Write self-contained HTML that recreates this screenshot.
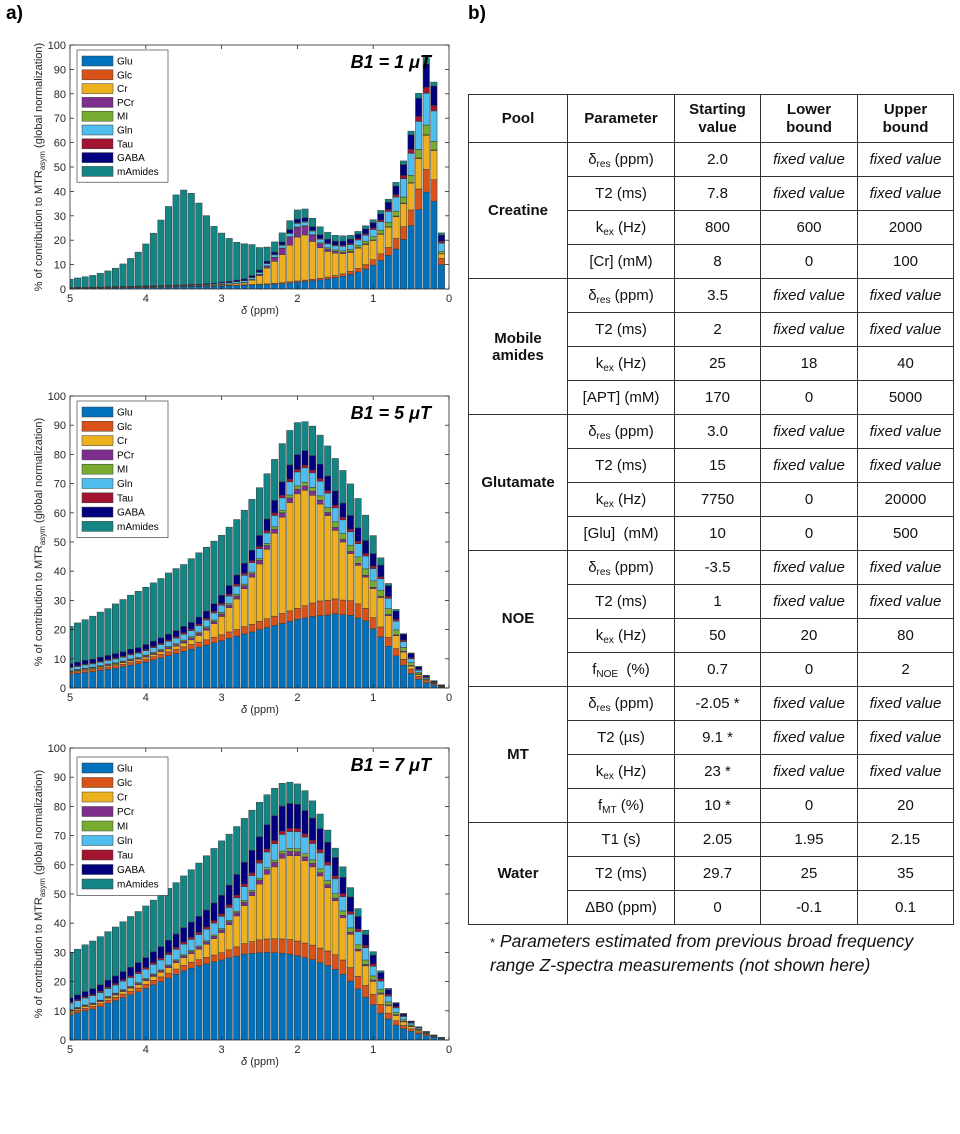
<!DOCTYPE html>
<html><head><meta charset="utf-8">
<style>
body{margin:0;background:#fff;width:960px;height:1134px;position:relative;overflow:hidden;font-family:"Liberation Sans",Arial,sans-serif;}
#charts{position:absolute;left:0;top:0;}
#tbl{position:absolute;left:468px;top:94px;border-collapse:collapse;table-layout:fixed;width:485px;font-size:15px;color:#111;}
#tbl td,#tbl th{border:1px solid #333;text-align:center;padding:0;}
#tbl th{height:47px;font-weight:bold;line-height:18px;}
#tbl td{height:33px;}
#tbl td.pool{font-weight:bold;}
#tbl i{font-style:italic;}
#tbl sub{font-size:10px;vertical-align:-3px;line-height:0;}
.lab{position:absolute;font-weight:bold;font-size:19px;}
#foot{position:absolute;left:490px;top:930px;font-size:17.5px;font-style:italic;line-height:23px;color:#111;}
</style></head>
<body>
<div class="lab" style="left:6px;top:3px">a)</div>
<div class="lab" style="left:468px;top:3px">b)</div>
<svg id="charts" width="460" height="1134"></svg>

<table id="tbl">
<colgroup><col style="width:99px"><col style="width:107px"><col style="width:86px"><col style="width:97px"><col style="width:96px"></colgroup>
<tr><th>Pool</th><th>Parameter</th><th>Starting<br>value</th><th>Lower<br>bound</th><th>Upper<br>bound</th></tr>
<tr><td class="pool" rowspan="4">Creatine</td><td>δ<sub>res</sub> (ppm)</td><td>2.0</td><td><i>fixed value</i></td><td><i>fixed value</i></td></tr>
<tr><td>T2 (ms)</td><td>7.8</td><td><i>fixed value</i></td><td><i>fixed value</i></td></tr>
<tr><td>k<sub>ex</sub> (Hz)</td><td>800</td><td>600</td><td>2000</td></tr>
<tr><td>[Cr] (mM)</td><td>8</td><td>0</td><td>100</td></tr>
<tr><td class="pool" rowspan="4">Mobile<br>amides</td><td>δ<sub>res</sub> (ppm)</td><td>3.5</td><td><i>fixed value</i></td><td><i>fixed value</i></td></tr>
<tr><td>T2 (ms)</td><td>2</td><td><i>fixed value</i></td><td><i>fixed value</i></td></tr>
<tr><td>k<sub>ex</sub> (Hz)</td><td>25</td><td>18</td><td>40</td></tr>
<tr><td>[APT] (mM)</td><td>170</td><td>0</td><td>5000</td></tr>
<tr><td class="pool" rowspan="4">Glutamate</td><td>δ<sub>res</sub> (ppm)</td><td>3.0</td><td><i>fixed value</i></td><td><i>fixed value</i></td></tr>
<tr><td>T2 (ms)</td><td>15</td><td><i>fixed value</i></td><td><i>fixed value</i></td></tr>
<tr><td>k<sub>ex</sub> (Hz)</td><td>7750</td><td>0</td><td>20000</td></tr>
<tr><td>[Glu] &nbsp;(mM)</td><td>10</td><td>0</td><td>500</td></tr>
<tr><td class="pool" rowspan="4">NOE</td><td>δ<sub>res</sub> (ppm)</td><td>-3.5</td><td><i>fixed value</i></td><td><i>fixed value</i></td></tr>
<tr><td>T2 (ms)</td><td>1</td><td><i>fixed value</i></td><td><i>fixed value</i></td></tr>
<tr><td>k<sub>ex</sub> (Hz)</td><td>50</td><td>20</td><td>80</td></tr>
<tr><td>f<sub>NOE</sub> &nbsp;(%)</td><td>0.7</td><td>0</td><td>2</td></tr>
<tr><td class="pool" rowspan="4">MT</td><td>δ<sub>res</sub> (ppm)</td><td>-2.05 *</td><td><i>fixed value</i></td><td><i>fixed value</i></td></tr>
<tr><td>T2 (µs)</td><td>9.1 *</td><td><i>fixed value</i></td><td><i>fixed value</i></td></tr>
<tr><td>k<sub>ex</sub> (Hz)</td><td>23 *</td><td><i>fixed value</i></td><td><i>fixed value</i></td></tr>
<tr><td>f<sub>MT</sub> (%)</td><td>10 *</td><td>0</td><td>20</td></tr>
<tr><td class="pool" rowspan="3">Water</td><td>T1 (s)</td><td>2.05</td><td>1.95</td><td>2.15</td></tr>
<tr><td>T2 (ms)</td><td>29.7</td><td>25</td><td>35</td></tr>
<tr><td>ΔB0 (ppm)</td><td>0</td><td>-0.1</td><td>0.1</td></tr>
</table>
<div id="foot"><span style="font-style:normal;font-size:13px">*</span> Parameters estimated from previous broad frequency<br>range Z-spectra measurements (not shown here)</div>

<script>
const deltas = [5.0,4.9,4.8,4.7,4.6,4.5,4.4,4.3,4.2,4.1,4.0,3.9,3.8,3.7,3.6,3.5,3.4,3.3,3.2,3.1,3.0,2.9,2.8,2.7,2.6,2.5,2.4,2.3,2.2,2.1,2.0,1.9,1.8,1.7,1.6,1.5,1.4,1.3,1.2,1.1,1.0,0.9,0.8,0.7,0.6,0.5,0.4,0.3,0.2,0.1];
const seriesNames = ["Glu","Glc","Cr","PCr","MI","Gln","Tau","GABA","mAmides"];
const yTicks = [0,10,20,30,40,50,60,70,80,90,100];
const xTicks = [5,4,3,2,1,0];

// B1 = 1 uT
const glu1 = [0.3,0.3,0.3,0.35,0.4,0.4,0.45,0.5,0.5,0.55,0.6,0.65,0.7,0.75,0.8,0.85,0.9,0.95,1.0,1.1,1.2,1.3,1.4,1.5,1.6,1.7,1.8,2.0,2.2,2.5,2.8,3.1,3.4,3.7,4.1,4.6,5.2,6.0,7.0,8.2,9.8,11.7,13.8,16.4,20.3,26,32.5,39.7,36,10];
const glc1 = [0.1,0.1,0.1,0.1,0.1,0.1,0.1,0.1,0.1,0.1,0.1,0.1,0.1,0.1,0.1,0.1,0.1,0.1,0.1,0.1,0.2,0.2,0.2,0.25,0.25,0.3,0.3,0.35,0.4,0.45,0.5,0.55,0.6,0.7,0.8,0.9,1,1.2,1.5,1.8,2.2,2.7,3.2,4.3,5.2,6.4,8.5,9.3,8.8,2.6];
const cr1 = [0.05,0.05,0.05,0.05,0.05,0.05,0.1,0.1,0.1,0.1,0.1,0.1,0.1,0.15,0.15,0.15,0.2,0.2,0.25,0.3,0.4,0.5,0.7,0.75,1.8,3.5,6.5,9,11.5,15,18,18.5,15.5,12.5,10.5,9.2,8.3,7.8,8.2,8.2,7.9,8,8.3,9,9.5,11,12.5,14,12,1.8];
const pcr1 = [0.02,0.02,0.02,0.02,0.02,0.02,0.02,0.02,0.02,0.02,0.02,0.02,0.02,0.02,0.02,0.02,0.02,0.02,0.02,0.02,0.02,0.02,0.02,0.1,0.2,0.4,0.8,1.5,2.5,3.3,3.8,3.5,2.5,1.6,1.0,0.7,0.5,0.4,0.3,0.3,0.2,0.2,0.2,0.2,0.2,0.2,0.2,0.2,0.2,0.1];
const mi1 = [0.05,0.05,0.05,0.05,0.05,0.05,0.05,0.05,0.05,0.05,0.05,0.05,0.05,0.05,0.05,0.05,0.05,0.05,0.05,0.05,0.05,0.05,0.06,0.07,0.08,0.1,0.1,0.15,0.2,0.2,0.3,0.3,0.3,0.4,0.5,0.6,0.7,0.8,0.9,1.1,1.3,1.5,1.8,2,2.5,3,3.5,4,3.5,0.8];
const gln1 = [0.1,0.1,0.1,0.1,0.1,0.15,0.15,0.15,0.2,0.2,0.2,0.25,0.25,0.3,0.3,0.3,0.35,0.35,0.4,0.4,0.5,0.5,0.6,0.7,0.7,0.8,0.9,1.0,1.1,1.3,1.5,1.5,1.5,1.5,1.6,1.7,1.8,2.0,2.2,2.5,3,3.5,4.5,5.8,7.5,9,11.5,13,12.5,3.5];
const tau1 = [0.05,0.05,0.05,0.05,0.05,0.05,0.05,0.05,0.05,0.05,0.05,0.05,0.05,0.05,0.05,0.05,0.05,0.05,0.05,0.05,0.05,0.06,0.07,0.08,0.09,0.1,0.1,0.15,0.2,0.2,0.25,0.25,0.25,0.3,0.3,0.35,0.4,0.45,0.5,0.5,0.6,0.7,0.8,1,1.3,1.6,2,2.5,2.2,0.8];
const gaba1 = [0.05,0.05,0.05,0.05,0.05,0.1,0.1,0.1,0.1,0.15,0.15,0.15,0.2,0.2,0.2,0.25,0.25,0.3,0.3,0.35,0.4,0.5,0.6,0.7,0.8,0.9,0.9,1,1.2,1.4,1.5,1.5,1.5,1.5,1.6,1.6,1.7,1.8,1.9,2,2.2,2.5,3,3.5,4.5,6,7.5,9.5,8,2.5];
const mam1 = [3.3,3.8,4.3,4.8,5.6,6.5,7.5,9.2,11.4,13.9,17.2,21.5,26.8,32.2,36.9,38.8,37.3,33.2,27.9,23.3,20.1,17.6,15.5,14.4,12.7,9.2,5.8,4.15,3.7,3.65,3.75,3.6,3.45,3.3,2.8,2.35,2.2,1.55,1.1,1.3,1.2,1.4,1.2,1.5,1.5,1.5,2,2.6,1.6,0.9];

// B1 = 5 uT
const glu2 = [4.6,5.0,5.3,5.6,6.0,6.4,6.8,7.3,7.8,8.3,8.9,9.6,10.3,11.1,11.8,12.6,13.3,14.0,14.7,15.5,16.2,17.0,17.7,18.5,19.2,20.0,20.7,21.4,22.1,22.8,23.5,24.0,24.5,24.8,25.0,25.4,25.1,24.9,24.0,23.0,20.3,17.5,14.3,11.0,7.8,5.0,3.0,1.8,1.0,0.3];
const glc2 = [0.6,0.6,0.7,0.7,0.7,0.8,0.8,0.8,0.9,0.9,1.0,1.1,1.2,1.3,1.4,1.5,1.6,1.7,1.8,1.9,2.0,2.2,2.3,2.5,2.6,2.8,3.0,3.2,3.4,3.6,3.8,4.2,4.6,5.0,5.0,5.1,5.0,5.0,4.8,4.3,3.8,3.4,3.0,2.5,2.0,1.5,1.0,0.7,0.4,0.1];
const cr2 = [0.3,0.35,0.4,0.4,0.45,0.5,0.5,0.55,0.6,0.65,0.7,0.8,0.9,1.0,1.1,1.3,1.6,2.3,3.3,4.6,6.3,8.3,10.5,13,16.2,19.7,23.8,28.4,33,37.1,39.2,39.5,36.9,33.2,29,23.5,19.9,16.1,13.2,10.7,9.9,10.1,7.5,4.4,2.5,1.0,0.6,0.3,0.2,0.1];
const pcr2 = [0.2,0.2,0.2,0.25,0.25,0.3,0.3,0.3,0.35,0.35,0.4,0.4,0.45,0.45,0.5,0.6,0.65,0.7,0.75,0.8,0.85,0.9,1.0,1.05,1.1,1.2,1.3,1.4,1.5,1.6,1.6,1.5,1.4,1.3,1.1,1.0,0.9,0.8,0.7,0.6,0.5,0.4,0.4,0.3,0.3,0.2,0.2,0.1,0.1,0.05];
const mi2 = [0.2,0.2,0.2,0.2,0.25,0.25,0.25,0.3,0.3,0.3,0.3,0.35,0.35,0.35,0.4,0.4,0.4,0.45,0.45,0.5,0.5,0.5,0.55,0.55,0.6,0.6,0.7,0.8,0.9,1.0,1.1,1.2,1.3,1.5,1.7,1.9,2.0,2.1,2.2,2.2,2.2,2.1,2.0,1.7,1.3,1.0,0.5,0.3,0.15,0.05];
const gln2 = [1.0,1.0,1.1,1.1,1.2,1.2,1.3,1.3,1.4,1.4,1.5,1.6,1.7,1.8,1.9,2.0,2.1,2.2,2.3,2.4,2.5,2.6,2.8,3.0,3.2,3.4,3.6,3.9,4.2,4.5,4.8,5.0,5.0,5.0,4.9,4.8,4.7,4.6,4.5,4.4,4.2,3.9,3.5,3.0,2.0,1.3,0.8,0.4,0.2,0.2];
const tau2 = [0.3,0.3,0.3,0.3,0.3,0.3,0.35,0.35,0.35,0.35,0.4,0.4,0.4,0.45,0.45,0.5,0.5,0.5,0.55,0.55,0.6,0.6,0.65,0.7,0.7,0.75,0.8,0.85,0.9,0.9,0.9,0.9,0.9,0.9,0.9,0.9,0.9,0.9,0.85,0.8,0.8,0.7,0.65,0.6,0.5,0.4,0.3,0.2,0.1,0.05];
const gaba2 = [1.2,1.2,1.3,1.3,1.4,1.4,1.5,1.5,1.6,1.6,1.7,1.8,1.9,2.0,2.1,2.2,2.3,2.4,2.5,2.6,2.8,3.0,3.2,3.4,3.6,3.8,4.0,4.3,4.6,4.9,5.0,5.0,5.0,5.0,5.0,4.9,4.8,4.7,4.6,4.5,4.3,4.0,3.7,2.8,2.0,1.4,0.9,0.5,0.3,0.2];
const mam2 = [12.7,13.45,13.9,14.75,15.45,16.05,17,17.9,18.5,19.25,19.6,19.95,20.3,20.95,21.25,21.2,21.85,22.05,21.85,21.45,20.55,20,19,18.2,17.4,16.35,15.5,14.05,13.1,11.8,11,9.9,10.1,9.9,10.3,11.1,11.2,10.8,10.05,8.7,6.2,2.5,0.75,0.6,0.2,0.2,0.1,0.05,0.05,0.05];

// B1 = 7 uT
const glu3 = [8.6,9.3,10,10.6,11.4,12.6,13.5,14.5,15.5,16.5,17.7,18.9,20,21.2,22.5,23.7,24.6,25.4,26.1,26.8,27.4,28.1,28.7,29.4,29.7,29.9,30,29.9,29.7,29.4,28.9,28.2,27.5,26.5,25.5,24.2,22.5,20.2,17.5,14.7,12.1,9.2,7.2,5.1,3.9,3.0,2.2,1.5,0.9,0.4];
const glc3 = [0.8,0.85,0.9,0.95,1.0,1.05,1.1,1.2,1.25,1.3,1.4,1.5,1.6,1.7,1.8,1.9,2.0,2.1,2.2,2.3,2.5,2.8,3.2,3.6,4.0,4.4,4.6,4.8,4.9,5.0,5.0,5.0,5.0,5.0,5.0,5.0,4.9,4.6,4.3,4.0,3.5,3.0,2.0,1.5,1.1,0.8,0.6,0.4,0.25,0.1];
const cr3 = [0.5,0.5,0.6,0.6,0.7,0.7,0.8,0.9,1.0,1.1,1.2,1.4,1.6,1.9,2.2,2.6,3.0,3.6,4.5,5.6,6.9,8.6,10.6,13,15.7,19.1,22.2,24.6,27.7,28.7,29.2,28.2,26.8,24.7,21.7,18.5,14.5,11.4,8.7,6.7,4.5,3.5,2.5,1.8,1.2,0.8,0.5,0.3,0.15,0.1];
const pcr3 = [0.3,0.3,0.3,0.3,0.35,0.35,0.4,0.4,0.4,0.45,0.45,0.5,0.5,0.55,0.6,0.6,0.65,0.7,0.75,0.8,0.9,1.0,1.1,1.2,1.3,1.4,1.5,1.5,1.5,1.5,1.4,1.3,1.2,1.1,1.0,0.9,0.8,0.7,0.6,0.5,0.45,0.4,0.35,0.3,0.25,0.2,0.15,0.1,0.05,0.05];
const mi3 = [0.2,0.2,0.2,0.2,0.2,0.25,0.25,0.25,0.25,0.3,0.3,0.3,0.3,0.35,0.35,0.35,0.4,0.4,0.4,0.45,0.45,0.5,0.5,0.55,0.6,0.6,0.7,0.8,0.9,1.0,1.0,1.1,1.2,1.3,1.4,1.5,1.5,1.5,1.5,1.5,1.4,1.3,1.0,0.7,0.5,0.35,0.25,0.15,0.1,0.05];
const gln3 = [2.2,2.3,2.4,2.5,2.6,2.7,2.8,2.9,3.0,3.1,3.2,3.3,3.4,3.5,3.6,3.7,3.8,3.9,4.0,4.1,4.2,4.4,4.6,4.8,5.0,5.2,5.4,5.6,5.7,5.8,5.8,5.7,5.6,5.5,5.3,5.1,4.9,4.7,4.5,4.2,3.3,2.8,2.0,1.6,1.1,0.6,0.4,0.25,0.15,0.1];
const tau3 = [0.4,0.4,0.4,0.4,0.45,0.45,0.5,0.5,0.5,0.55,0.55,0.6,0.6,0.65,0.65,0.7,0.7,0.75,0.75,0.8,0.8,0.85,0.9,0.9,0.95,1.0,1.0,1.1,1.1,1.1,1.1,1.1,1.1,1.1,1.0,1.0,1.0,0.9,0.9,0.8,0.8,0.7,0.6,0.4,0.3,0.2,0.15,0.1,0.05,0.05];
const gaba3 = [1.5,1.6,1.8,2.0,2.2,2.4,2.6,2.8,3.0,3.2,3.4,3.7,4.0,4.3,4.6,4.9,5.2,5.5,5.8,6.1,6.4,6.8,7.1,7.4,7.7,8.0,8.3,8.5,8.6,8.5,8.3,8.0,7.6,7.2,6.8,6.3,5.6,5.0,4.3,3.7,3.0,2.2,1.6,1.2,0.6,0.4,0.2,0.1,0.05,0.05];
const mam3 = [15.4,15.65,16,16.35,16.5,16.6,16.75,17.05,17.4,17.5,17.7,17.7,17.7,17.75,17.6,17.75,17.95,18.25,18.6,18.65,18.65,17.45,16.4,15.05,13.75,11.8,10.3,9.4,7.8,7.3,7.0,6.8,5.9,5.0,4.2,3.2,3.6,3.2,2.7,1.5,1.2,0.6,0.45,0.2,0.15,0.15,0.05,0.02,0.02,0.02];

const colors = ["#0072BD","#D95319","#EDB120","#7E2F8E","#77AC30","#4DBEEE","#A2142F","#00007F","#148585"];
const NS = "http://www.w3.org/2000/svg";
const svg = document.getElementById("charts");

function mk(tag, attrs, parent){
  const e = document.createElementNS(NS, tag);
  for (const k in attrs) e.setAttribute(k, attrs[k]);
  parent.appendChild(e);
  return e;
}

function drawChart(idx, series, top, bottom, title, legTop, legStep){
  const left = 70, right = 449;
  const xs = d => left + (5 - d) / 5 * (right - left);
  const ys = v => bottom - v / 100 * (bottom - top);
  const g = mk("g", {}, svg);
  
  
  const clip = mk("clipPath", {id: "clip" + idx}, g);
  mk("rect", {x: left, y: top, width: right - left, height: bottom - top}, clip);
  const bars = mk("g", {"clip-path": "url(#clip" + idx + ")"}, g);
  const bw = 0.085 / 5 * (right - left);
  for (let i = 0; i < deltas.length; i++) {
    let cum = 0;
    for (let s = 0; s < series.length; s++) {
      const v = series[s][i];
      const r = mk("rect", {x: xs(deltas[i]) - bw / 2, y: ys(cum + v), width: bw, height: Math.max(0, ys(cum) - ys(cum + v)), fill: colors[s], stroke: "#3a3a3a", "stroke-width": 0.5}, bars);
      
      
      cum += v;
    }
  }
  const ax = mk("rect", {x: left, y: top, width: right - left, height: bottom - top, fill: "none", stroke: "#262626", "stroke-width": 0.8}, g);
  
  
  yTicks.forEach(t => {
    const y = ys(t);
    mk("line", {x1: left, x2: left + 4, y1: y, y2: y, stroke: "#262626", "stroke-width": 0.8}, g);
    mk("line", {x1: right, x2: right - 4, y1: y, y2: y, stroke: "#262626", "stroke-width": 0.8}, g);
    const tx = mk("text", {x: left - 4, y: y + 4, "text-anchor": "end", "font-size": 11, fill: "#262626"}, g);
    tx.textContent = t;
    
    
  });
  xTicks.forEach(t => {
    const x = xs(t);
    mk("line", {x1: x, x2: x, y1: bottom, y2: bottom - 4, stroke: "#262626", "stroke-width": 0.8}, g);
    mk("line", {x1: x, x2: x, y1: top, y2: top + 4, stroke: "#262626", "stroke-width": 0.8}, g);
    const tx = mk("text", {x: x, y: bottom + 13, "text-anchor": "middle", "font-size": 11, fill: "#262626"}, g);
    tx.textContent = t;
    
    
  });
  const xl = mk("text", {x: 260, y: bottom + 25, "text-anchor": "middle", "font-size": 11, fill: "#262626"}, g);
  xl.innerHTML = '<tspan font-style="italic">δ</tspan> (ppm)';
  
  
  const cy = (top + bottom) / 2;
  const yl = mk("text", {x: 0, y: 0, transform: "translate(42," + cy + ") rotate(-90)", "text-anchor": "middle", "font-size": 11, fill: "#262626"}, g);
  yl.innerHTML = '% of contribution to MTR<tspan font-size="8" dy="3">asym</tspan><tspan dy="-3"> (global normalization)</tspan>';
  
  
  const tt = mk("text", {x: 431, y: top + 23, "text-anchor": "end", "font-size": 18, "font-weight": "bold", "font-style": "italic", fill: "#000"}, g);
  tt.textContent = title;
  
  
  const lg = mk("g", {}, g);
  
  
  mk("rect", {x: 77, y: legTop - 11, width: 91, height: legStep * 9 + 8, fill: "#fff", stroke: "#262626", "stroke-width": 0.6}, lg);
  seriesNames.forEach((n, s) => {
    const yy = legTop + s * legStep;
    const sw = mk("rect", {x: 82, y: yy - 5, width: 31, height: 10, fill: colors[s], stroke: "#3a3a3a", "stroke-width": 0.5}, lg);
    
    
    const lt = mk("text", {x: 117, y: yy + 3.5, "font-size": 10, fill: "#000"}, lg);
    lt.textContent = n;
    
    
  });
}

drawChart(1, [glu1,glc1,cr1,pcr1,mi1,gln1,tau1,gaba1,mam1], 45, 289, "B1 = 1 μT", 61, 13.8);
drawChart(2, [glu2,glc2,cr2,pcr2,mi2,gln2,tau2,gaba2,mam2], 396, 688, "B1 = 5 μT", 412, 14.3);
drawChart(3, [glu3,glc3,cr3,pcr3,mi3,gln3,tau3,gaba3,mam3], 748, 1040, "B1 = 7 μT", 768, 14.5);
</script>
</body></html>
